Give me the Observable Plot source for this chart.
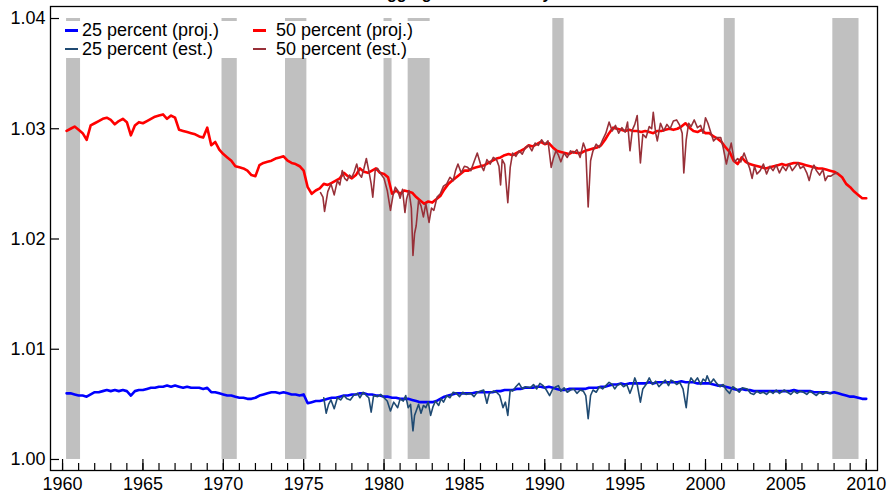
<!DOCTYPE html>
<html><head><meta charset="utf-8">
<script src="https://cdn.jsdelivr.net/npm/d3@7"></script>
<script src="https://cdn.jsdelivr.net/npm/@observablehq/plot@0.6"></script>
<style>
body{margin:0;background:#fff;overflow:hidden;font-family:"Liberation Sans",Arial,sans-serif}
#wrap{position:relative;width:888px;height:494px;overflow:hidden}
#chart{position:absolute;left:0;top:0}
#title{position:absolute;left:50px;width:827px;top:-14px;text-align:center;font-weight:bold;font-size:16px;line-height:16px;color:#000}
#legend{position:absolute;left:60px;top:21px;width:370px;height:37px;background:#fff;font-size:18px;color:#000}
.item{position:absolute;height:18.5px;line-height:18.5px;white-space:nowrap}
.sw{position:absolute;width:13px}
</style></head>
<body>
<div id="wrap">
  <div id="chart"></div>
  <div id="title">Aggregate Productivity</div>
  <div id="legend"></div>
</div>
<script>
// ---------- data ----------
const seriesNames = ["25 percent (proj.)", "25 percent (est.)", "50 percent (proj.)", "50 percent (est.)"];
const seriesColors = ["#0000ff", "#1f4a72", "#ff0000", "#983038"];

const xTicksMajor = [1960, 1965, 1970, 1975, 1980, 1985, 1990, 1995, 2000, 2005, 2010];
const xTicksMinor = [1960,1961,1962,1963,1964,1965,1966,1967,1968,1969,1970,1971,1972,1973,1974,1975,1976,1977,1978,1979,1980,1981,1982,1983,1984,1985,1986,1987,1988,1989,1990,1991,1992,1993,1994,1995,1996,1997,1998,1999,2000,2001,2002,2003,2004,2005,2006,2007,2008,2009,2010];
const yTicks = [1.00, 1.01, 1.02, 1.03, 1.04];

const recStart = [1960.25, 1969.92, 1973.87, 1980.0, 1981.5, 1990.5, 2001.17, 2007.92];
const recEnd   = [1961.12, 1970.87, 1975.2, 1980.5, 1982.87, 1991.2, 2001.85, 2009.55];

// quarterly projections, first quarter 1960Q2
const projStart = 1960.25;
const proj50 = [
1.0298,1.0300,1.0302,1.0299, 1.0296,1.0290,1.0303,1.0305, 1.0307,1.0309,1.0310,1.0308, 1.0304,1.0307,1.0309,1.0306,
1.0294,1.0303,1.0306,1.0305, 1.0307,1.0309,1.0311,1.0312, 1.0313,1.0309,1.0312,1.0310, 1.0299,1.0298,1.0297,1.0296,
1.0295,1.0293,1.0292,1.0301, 1.0285,1.0288,1.0281,1.0277, 1.0274,1.0271,1.0266,1.0265, 1.0264,1.0262,1.0258,1.0257,
1.0267,1.0269,1.0270,1.0271, 1.0273,1.0274,1.0275,1.0271, 1.0269,1.0268,1.0266,1.0262, 1.0247,1.0241,1.0244,1.0246,
1.0250,1.0249,1.0251,1.0253, 1.0255,1.0260,1.0257,1.0255, 1.0258,1.0264,1.0261,1.0260, 1.0262,1.0264,1.0260,1.0259,
1.0256,1.0241,1.0244,1.0241, 1.0244,1.0243,1.0242,1.0238, 1.0235,1.0232,1.0234,1.0233, 1.0236,1.0239,1.0245,1.0250,
1.0253,1.0256,1.0259,1.0262, 1.0262,1.0264,1.0265,1.0266, 1.0267,1.0269,1.0271,1.0273, 1.0274,1.0276,1.0277,1.0276,
1.0278,1.0280,1.0282,1.0285, 1.0284,1.0286,1.0288,1.0286, 1.0287,1.0283,1.0280,1.0279, 1.0278,1.0277,1.0279,1.0278,
1.0278,1.0280,1.0281,1.0282, 1.0283,1.0285,1.0290,1.0296, 1.0301,1.0300,1.0299,1.0298, 1.0299,1.0298,1.0298,1.0297,
1.0298,1.0297,1.0296,1.0298, 1.0298,1.0299,1.0300,1.0299, 1.0300,1.0302,1.0305,1.0301, 1.0298,1.0297,1.0299,1.0296,
1.0296,1.0293,1.0291,1.0288, 1.0283,1.0279,1.0271,1.0268, 1.0274,1.0270,1.0268,1.0267, 1.0266,1.0265,1.0264,1.0265,
1.0266,1.0267,1.0268,1.0267, 1.0268,1.0269,1.0269,1.0268, 1.0267,1.0266,1.0265,1.0264, 1.0264,1.0263,1.0262,1.0261,
1.0259,1.0256,1.0250,1.0247, 1.0243,1.0240,1.0237,1.0237];
const proj25 = [
1.0060,1.0060,1.0059,1.0058, 1.0058,1.0057,1.0059,1.0061, 1.0061,1.0062,1.0063,1.0062, 1.0063,1.0062,1.0063,1.0062,
1.0058,1.0062,1.0063,1.0063, 1.0064,1.0065,1.0065,1.0066, 1.0066,1.0067,1.0066,1.0067, 1.0066,1.0065,1.0066,1.0065,
1.0065,1.0065,1.0064,1.0065, 1.0061,1.0061,1.0060,1.0059, 1.0058,1.0058,1.0057,1.0056, 1.0056,1.0055,1.0055,1.0056,
1.0058,1.0059,1.0060,1.0061, 1.0061,1.0060,1.0061,1.0060, 1.0059,1.0059,1.0058,1.0059, 1.0051,1.0052,1.0053,1.0053,
1.0054,1.0055,1.0056,1.0056, 1.0057,1.0058,1.0058,1.0059, 1.0059,1.0060,1.0060,1.0059, 1.0059,1.0058,1.0058,1.0057,
1.0057,1.0056,1.0056,1.0055, 1.0055,1.0055,1.0054,1.0053, 1.0052,1.0052,1.0052,1.0052, 1.0053,1.0055,1.0057,1.0058,
1.0059,1.0060,1.0060,1.0060, 1.0060,1.0060,1.0061,1.0061, 1.0061,1.0061,1.0061,1.0062, 1.0062,1.0063,1.0063,1.0063,
1.0064,1.0064,1.0065,1.0065, 1.0065,1.0066,1.0066,1.0065, 1.0066,1.0065,1.0064,1.0063, 1.0063,1.0064,1.0064,1.0064,
1.0064,1.0064,1.0065,1.0065, 1.0065,1.0066,1.0066,1.0067, 1.0068,1.0068,1.0069,1.0068, 1.0069,1.0069,1.0069,1.0069,
1.0069,1.0070,1.0069,1.0070, 1.0070,1.0070,1.0070,1.0070, 1.0070,1.0071,1.0070,1.0070, 1.0070,1.0069,1.0069,1.0069,
1.0069,1.0068,1.0067,1.0067, 1.0066,1.0065,1.0064,1.0063, 1.0064,1.0063,1.0063,1.0062, 1.0062,1.0062,1.0062,1.0062,
1.0062,1.0062,1.0062,1.0062, 1.0062,1.0063,1.0062,1.0062, 1.0062,1.0062,1.0061,1.0061, 1.0061,1.0061,1.0060,1.0061,
1.0060,1.0059,1.0058,1.0057, 1.0057,1.0056,1.0055,1.0055];

// estimates: [year, value]
const est50 = [
[1976.05,1.0242],[1976.2,1.0238],[1976.3,1.0225],[1976.5,1.0243],[1976.7,1.0250],[1976.9,1.0240],[1977.1,1.0253],[1977.25,1.0249],
[1977.4,1.0262],[1977.55,1.0255],[1977.7,1.0253],[1977.85,1.0258],[1978.0,1.0256],[1978.15,1.0261],[1978.3,1.0268],[1978.45,1.0259],
[1978.6,1.0256],[1978.75,1.0264],[1978.9,1.0273],[1979.05,1.0262],[1979.2,1.0250],[1979.3,1.0238],[1979.45,1.0262],[1979.6,1.0264],
[1979.8,1.0259],[1980.0,1.0255],[1980.2,1.0244],[1980.4,1.0226],[1980.55,1.0239],[1980.7,1.0247],[1980.85,1.0244],[1981.0,1.0237],
[1981.15,1.0245],[1981.3,1.0224],[1981.4,1.0236],[1981.55,1.0244],[1981.7,1.0228],[1981.8,1.0185],[1981.9,1.0205],[1982.0,1.0212],
[1982.15,1.0235],[1982.3,1.0230],[1982.45,1.0220],[1982.6,1.0232],[1982.8,1.0215],[1982.95,1.0228],[1983.1,1.0226],[1983.3,1.0238],
[1983.5,1.0241],[1983.7,1.0248],[1983.9,1.0250],[1984.1,1.0256],[1984.3,1.0253],[1984.45,1.0262],[1984.6,1.0268],[1984.8,1.0260],
[1985.0,1.0266],[1985.2,1.0265],[1985.4,1.0262],[1985.6,1.0270],[1985.8,1.0278],[1986.0,1.0268],[1986.2,1.0262],[1986.4,1.0272],
[1986.6,1.0268],[1986.8,1.0274],[1987.0,1.0272],[1987.15,1.0266],[1987.25,1.0249],[1987.35,1.0272],[1987.5,1.0268],[1987.6,1.0250],
[1987.7,1.0233],[1987.85,1.0265],[1988.0,1.0278],[1988.2,1.0275],[1988.4,1.0280],[1988.6,1.0277],[1988.8,1.0283],[1989.0,1.0285],
[1989.2,1.0280],[1989.4,1.0287],[1989.6,1.0285],[1989.8,1.0290],[1990.0,1.0286],[1990.2,1.0289],[1990.4,1.0265],[1990.55,1.0274],
[1990.7,1.0280],[1990.85,1.0276],[1991.0,1.0270],[1991.2,1.0278],[1991.4,1.0274],[1991.6,1.0280],[1991.8,1.0278],[1992.0,1.0281],
[1992.2,1.0274],[1992.4,1.0287],[1992.55,1.0281],[1992.7,1.0229],[1992.85,1.0271],[1993.0,1.0280],[1993.2,1.0286],[1993.4,1.0283],
[1993.6,1.0290],[1993.8,1.0296],[1994.0,1.0306],[1994.2,1.0298],[1994.4,1.0303],[1994.6,1.0296],[1994.8,1.0301],[1995.0,1.0297],
[1995.15,1.0306],[1995.3,1.0280],[1995.45,1.0299],[1995.6,1.0304],[1995.75,1.0312],[1995.95,1.0269],[1996.1,1.0295],[1996.3,1.0292],
[1996.5,1.0302],[1996.65,1.0300],[1996.75,1.0315],[1996.9,1.0296],[1997.0,1.0289],[1997.2,1.0305],[1997.4,1.0298],[1997.6,1.0304],
[1997.8,1.0300],[1998.0,1.0307],[1998.2,1.0308],[1998.4,1.0303],[1998.55,1.0296],[1998.65,1.0260],[1998.8,1.0290],[1998.95,1.0305],
[1999.1,1.0302],[1999.3,1.0308],[1999.5,1.0301],[1999.7,1.0303],[1999.85,1.0296],[2000.0,1.0310],[2000.15,1.0305],[2000.3,1.0298],
[2000.5,1.0289],[2000.7,1.0292],[2000.95,1.0292],[2001.1,1.0283],[2001.3,1.0268],[2001.45,1.0278],[2001.6,1.0287],[2001.8,1.0270],
[2002.0,1.0273],[2002.2,1.0270],[2002.4,1.0278],[2002.6,1.0270],[2002.75,1.0264],[2002.9,1.0255],[2003.05,1.0266],[2003.2,1.0259],
[2003.4,1.0262],[2003.6,1.0268],[2003.8,1.0259],[2004.0,1.0266],[2004.2,1.0262],[2004.4,1.0267],[2004.6,1.0260],[2004.8,1.0266],
[2005.0,1.0262],[2005.2,1.0268],[2005.4,1.0262],[2005.6,1.0266],[2005.75,1.0269],[2005.9,1.0264],[2006.1,1.0266],[2006.3,1.0260],
[2006.45,1.0253],[2006.6,1.0262],[2006.75,1.0267],[2006.9,1.0262],[2007.1,1.0258],[2007.3,1.0263],[2007.45,1.0253],[2007.6,1.0257],
[2007.8,1.0257],[2008.0,1.0259],[2008.2,1.0260]];
const est25 = [
[1976.25,1.0056],[1976.4,1.0042],[1976.55,1.0050],[1976.7,1.0054],[1976.9,1.0046],[1977.1,1.0056],[1977.3,1.0054],[1977.5,1.0058],
[1977.7,1.0055],[1977.9,1.0054],[1978.1,1.0058],[1978.35,1.0060],[1978.5,1.0056],[1978.7,1.0061],[1978.9,1.0058],[1979.05,1.0056],
[1979.2,1.0043],[1979.35,1.0058],[1979.6,1.0057],[1979.8,1.0059],[1980.0,1.0056],[1980.2,1.0053],[1980.4,1.0044],[1980.6,1.0052],
[1980.85,1.0047],[1981.0,1.0055],[1981.2,1.0053],[1981.35,1.0058],[1981.5,1.0047],[1981.65,1.0050],[1981.8,1.0026],[1981.9,1.0040],
[1982.0,1.0044],[1982.15,1.0050],[1982.3,1.0042],[1982.45,1.0049],[1982.6,1.0047],[1982.75,1.0052],[1982.9,1.0040],[1983.05,1.0048],
[1983.2,1.0053],[1983.4,1.0049],[1983.55,1.0055],[1983.7,1.0052],[1983.9,1.0058],[1984.1,1.0056],[1984.3,1.0061],[1984.5,1.0060],
[1984.7,1.0057],[1984.9,1.0061],[1985.1,1.0059],[1985.4,1.0060],[1985.6,1.0057],[1985.8,1.0061],[1986.0,1.0062],[1986.2,1.0063],
[1986.4,1.0051],[1986.55,1.0060],[1986.8,1.0062],[1987.0,1.0061],[1987.2,1.0058],[1987.4,1.0047],[1987.55,1.0052],[1987.7,1.0040],
[1987.85,1.0063],[1988.0,1.0062],[1988.2,1.0066],[1988.4,1.0069],[1988.6,1.0064],[1988.8,1.0066],[1989.1,1.0065],[1989.3,1.0068],
[1989.5,1.0064],[1989.7,1.0069],[1989.9,1.0067],[1990.1,1.0063],[1990.3,1.0058],[1990.5,1.0064],[1990.7,1.0066],[1990.85,1.0067],
[1991.0,1.0062],[1991.2,1.0065],[1991.4,1.0061],[1991.6,1.0063],[1991.8,1.0064],[1992.0,1.0060],[1992.2,1.0063],[1992.4,1.0062],
[1992.55,1.0058],[1992.7,1.0037],[1992.85,1.0058],[1993.0,1.0063],[1993.2,1.0061],[1993.4,1.0066],[1993.6,1.0064],[1993.8,1.0067],
[1994.0,1.0070],[1994.2,1.0068],[1994.35,1.0064],[1994.5,1.0067],[1994.7,1.0069],[1994.9,1.0066],[1995.1,1.0068],[1995.3,1.0060],
[1995.45,1.0066],[1995.6,1.0074],[1995.75,1.0068],[1995.95,1.0052],[1996.1,1.0064],[1996.3,1.0068],[1996.5,1.0074],[1996.7,1.0068],
[1996.9,1.0071],[1997.1,1.0066],[1997.3,1.0069],[1997.5,1.0072],[1997.7,1.0067],[1997.85,1.0072],[1998.0,1.0071],[1998.2,1.0068],
[1998.4,1.0070],[1998.6,1.0064],[1998.8,1.0047],[1998.95,1.0068],[1999.1,1.0074],[1999.3,1.0070],[1999.5,1.0074],[1999.7,1.0068],
[1999.85,1.0073],[2000.0,1.0071],[2000.1,1.0076],[2000.3,1.0069],[2000.5,1.0073],[2000.7,1.0069],[2000.9,1.0066],[2001.1,1.0068],
[2001.3,1.0063],[2001.5,1.0060],[2001.7,1.0066],[2001.9,1.0064],[2002.1,1.0061],[2002.3,1.0065],[2002.6,1.0064],[2002.8,1.0060],
[2003.0,1.0059],[2003.2,1.0062],[2003.4,1.0060],[2003.6,1.0061],[2003.8,1.0059],[2004.0,1.0062],[2004.2,1.0060],[2004.4,1.0063],
[2004.6,1.0060],[2004.9,1.0063],[2005.1,1.0061],[2005.3,1.0059],[2005.5,1.0062],[2005.7,1.0060],[2005.9,1.0062],[2006.1,1.0061],
[2006.3,1.0059],[2006.5,1.0062],[2006.7,1.0060],[2006.9,1.0058],[2007.1,1.0061],[2007.3,1.0059],[2007.5,1.0061],[2007.8,1.0060]];

// ---------- build tables ----------
const projRows = (arr) => arr.map((v, i) => ({t: projStart + i / 4, v}));
const estRows = (arr) => arr.map(([t, v]) => ({t, v}));
const recessions = recStart.map((s, i) => ({start: s, end: recEnd[i], lo: yTicks[0], hi: yTicks[yTicks.length - 1]}));

const chart = Plot.plot({
  width: 888,
  height: 494,
  marginLeft: 50,
  marginRight: 11,
  marginTop: 6,
  marginBottom: 24,
  x: {domain: [1959.25, 2010.7], label: null},
  y: {domain: [0.99900, 1.04109], label: null},
  style: {fontFamily: "'Liberation Sans', Arial, sans-serif", fontSize: "18px", color: "#000", background: "#fff"},
  marks: [
    Plot.rect(recessions, {x1: "start", x2: "end", y1: "lo", y2: "hi", fill: "#c0c0c0"}),
    Plot.line(projRows(proj25), {x: "t", y: "v", stroke: seriesColors[0], strokeWidth: 2.6}),
    Plot.line(estRows(est25), {x: "t", y: "v", stroke: seriesColors[1], strokeWidth: 1.6}),
    Plot.line(projRows(proj50), {x: "t", y: "v", stroke: seriesColors[2], strokeWidth: 2.6}),
    Plot.line(estRows(est50), {x: "t", y: "v", stroke: seriesColors[3], strokeWidth: 1.6}),
    Plot.axisX({ticks: xTicksMinor, tickSize: -7, tickFormat: () => "", strokeWidth: 1.2}),
    Plot.axisX({ticks: xTicksMajor, tickSize: -11, tickPadding: 18, tickFormat: "d", strokeWidth: 1.2}),
    Plot.axisY({ticks: yTicks, tickSize: -9, tickPadding: 14, tickFormat: ".2f", strokeWidth: 1.2}),
    Plot.frame({stroke: "#000", strokeWidth: 1.3})
  ]
});
document.getElementById("chart").appendChild(chart);

// ---------- legend (HTML overlay) ----------
const legend = document.getElementById("legend");
const pos = [[5, 22, 0], [5, 22, 18.5], [193, 216, 0], [193, 216, 18.5]];
seriesNames.forEach((name, i) => {
  const [sx, tx, ty] = pos[i];
  const sw = document.createElement("div");
  sw.className = "sw";
  const h = i % 2 === 0 ? 3 : 2;
  sw.style.cssText = `left:${sx}px;top:${ty + 9.5 - h / 2}px;height:${h}px;background:${seriesColors[i]}`;
  legend.appendChild(sw);
  const t = document.createElement("div");
  t.className = "item";
  t.style.left = tx + "px";
  t.style.top = ty + "px";
  t.textContent = name;
  legend.appendChild(t);
});
</script>
</body></html>
